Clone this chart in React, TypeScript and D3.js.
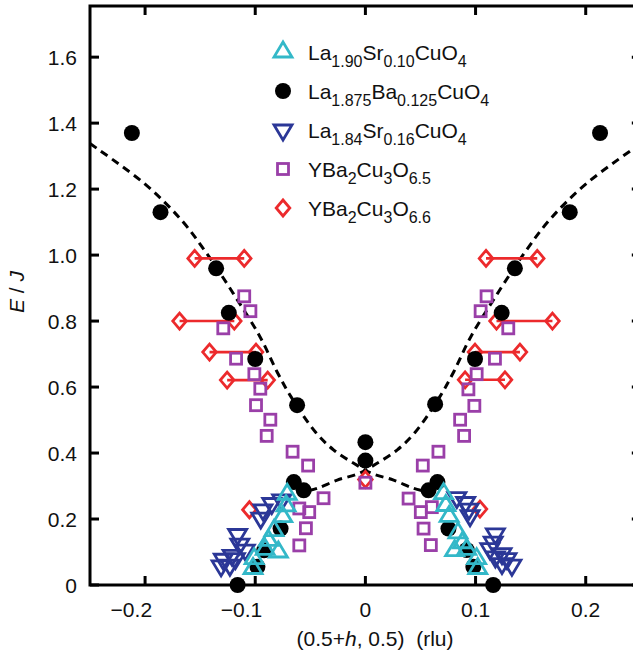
import React from 'react';
import * as d3 from 'd3';

// ---- axis ticks ----
const xTicks = [-0.2, -0.1, 0, 0.1, 0.2];
const xTickLabels = ['\u22120.2', '\u22120.1', '0', '0.1', '0.2'];
const yTicks = [0, 0.2, 0.4, 0.6, 0.8, 1.0, 1.2, 1.4, 1.6];
const yTickLabels = ['0', '0.2', '0.4', '0.6', '0.8', '1.0', '1.2', '1.4', '1.6'];

// ---- data: [h (rlu), E/J] ----
const lsco10: [number, number][] = [
  [-0.071, 0.275], [-0.072, 0.24], [-0.075, 0.207], [-0.083, 0.165], [-0.088, 0.135],
  [-0.079, 0.1], [-0.091, 0.108], [-0.101, 0.08], [-0.102, 0.05],
  [0.071, 0.277], [0.073, 0.241], [0.076, 0.208], [0.084, 0.158], [0.088, 0.128],
  [0.081, 0.104], [0.092, 0.108], [0.101, 0.08], [0.102, 0.05],
];

const lbco: [number, number][] = [
  [-0.212, 1.37], [-0.186, 1.13], [-0.1355, 0.96], [-0.124, 0.825], [-0.1, 0.685],
  [-0.062, 0.545], [-0.065, 0.312], [-0.056, 0.287], [-0.077, 0.171], [-0.092, 0.105],
  [-0.098, 0.055], [-0.116, 0.0],
  [0, 0.433], [0, 0.377],
  [0.213, 1.37], [0.1855, 1.13], [0.1357, 0.96], [0.1237, 0.825], [0.0995, 0.685],
  [0.0633, 0.548], [0.0654, 0.312], [0.0573, 0.287], [0.0754, 0.171], [0.092, 0.106],
  [0.098, 0.055], [0.116, 0.0],
];

const lsco16: [number, number][] = [
  [-0.076, 0.258], [-0.085, 0.247], [-0.093, 0.228], [-0.095, 0.203], [-0.116, 0.153],
  [-0.114, 0.124], [-0.109, 0.106], [-0.121, 0.09], [-0.129, 0.078], [-0.131, 0.058],
  [-0.123, 0.06], [-0.118, 0.08],
  [0.083, 0.265], [0.091, 0.25], [0.094, 0.23], [0.095, 0.21], [0.118, 0.155],
  [0.116, 0.13], [0.113, 0.11], [0.124, 0.095], [0.1285, 0.08], [0.133, 0.06],
  [0.124, 0.065], [0.118, 0.085],
];

const ybco65: [number, number][] = [
  [-0.11, 0.875], [-0.1044, 0.83], [-0.129, 0.778], [-0.1174, 0.686], [-0.1008, 0.639],
  [-0.0954, 0.595], [-0.0993, 0.545], [-0.0863, 0.501], [-0.0896, 0.452], [-0.0661, 0.404],
  [-0.052, 0.362], [-0.038, 0.263], [-0.06, 0.232], [-0.051, 0.221], [-0.054, 0.172],
  [-0.06, 0.12],
  [0, 0.31],
  [0.11, 0.875], [0.1046, 0.83], [0.1297, 0.778], [0.1176, 0.686], [0.101, 0.639],
  [0.0935, 0.593], [0.0989, 0.543], [0.086, 0.501], [0.0896, 0.452], [0.0663, 0.404],
  [0.0521, 0.362], [0.0392, 0.262], [0.0603, 0.236], [0.0503, 0.221], [0.0528, 0.171],
  [0.0594, 0.121],
];

const ybco66: [number, number][] = [
  [-0.155, 0.99], [-0.11, 0.99], [-0.1687, 0.8], [-0.119, 0.8], [-0.1415, 0.706],
  [-0.0993, 0.706], [-0.1255, 0.621], [-0.0887, 0.621], [-0.1053, 0.228],
  [0, 0.32],
  [0.1095, 0.99], [0.156, 0.99], [0.119, 0.8], [0.1698, 0.8], [0.0995, 0.706],
  [0.1403, 0.706], [0.0905, 0.622], [0.1267, 0.622], [0.104, 0.23],
];

// ranges joined by a line: [h low, h high, E]
const ybco66Ranges: [number, number, number][] = [
  [-0.155, -0.11, 0.99], [-0.1687, -0.119, 0.8], [-0.1415, -0.0993, 0.706], [-0.1255, -0.0887, 0.621],
  [0.1095, 0.156, 0.99], [0.119, 0.1698, 0.8], [0.0995, 0.1403, 0.706], [0.0905, 0.1267, 0.622],
];

// dashed dispersion curves
const curveA: [number, number][] = [
  [-0.25, 1.338], [-0.2, 1.215], [-0.167, 1.106], [-0.144, 1.005], [-0.12, 0.884],
  [-0.0956, 0.752], [-0.08, 0.645], [-0.0676, 0.571], [-0.045, 0.462], [-0.0287, 0.409],
  [-0.0106, 0.369], [0.006, 0.338], [0.0256, 0.318], [0.0437, 0.293], [0.055, 0.283],
];
const curveB: [number, number][] = [
  [0.25, 1.338], [0.2, 1.215], [0.167, 1.106], [0.144, 1.005], [0.12, 0.884],
  [0.0956, 0.752], [0.08, 0.645], [0.0676, 0.571], [0.045, 0.462], [0.0287, 0.409],
  [0.0106, 0.369], [-0.006, 0.338], [-0.0256, 0.318], [-0.0437, 0.293], [-0.055, 0.283],
];

// legend entries: text parts, sub = subscript
const legendLabels: [string, boolean][][] = [
  [['La', false], ['1.90', true], ['Sr', false], ['0.10', true], ['CuO', false], ['4', true]],
  [['La', false], ['1.875', true], ['Ba', false], ['0.125', true], ['CuO', false], ['4', true]],
  [['La', false], ['1.84', true], ['Sr', false], ['0.16', true], ['CuO', false], ['4', true]],
  [['YBa', false], ['2', true], ['Cu', false], ['3', true], ['O', false], ['6.5', true]],
  [['YBa', false], ['2', true], ['Cu', false], ['3', true], ['O', false], ['6.6', true]],
];

const CYAN = '#33b8c8';
const BLUE = '#2b3797';
const PURPLE = '#9a3fa8';
const RED = '#ec2a2c';
const FONT = '"Liberation Sans", Arial, Helvetica, sans-serif';

function Marker({ kind, cx, cy }: { kind: number; cx: number; cy: number }) {
  const sw = 2.8;
  if (kind === 0) {
    const w = 18, h = 15;
    return <path d={`M${cx},${cy - (2 * h) / 3}L${cx + w / 2},${cy + h / 3}L${cx - w / 2},${cy + h / 3}Z`} fill="none" stroke={CYAN} strokeWidth={sw} />;
  }
  if (kind === 1) return <circle cx={cx} cy={cy} r={8} fill="#000" />;
  if (kind === 2) {
    const w = 18, h = 15;
    return <path d={`M${cx},${cy + (2 * h) / 3}L${cx + w / 2},${cy - h / 3}L${cx - w / 2},${cy - h / 3}Z`} fill="none" stroke={BLUE} strokeWidth={sw} />;
  }
  if (kind === 3) return <rect x={cx - 5.5} y={cy - 5.5} width={11} height={11} fill="none" stroke={PURPLE} strokeWidth={sw} />;
  return <path d={`M${cx},${cy - 8}L${cx + 6.8},${cy}L${cx},${cy + 8}L${cx - 6.8},${cy}Z`} fill="none" stroke={RED} strokeWidth={sw} />;
}

export default function App() {
  const x = d3.scaleLinear().domain([-0.25, 0.25]).range([90, 640.8]);
  const y = d3.scaleLinear().domain([0, 1.755]).range([585, 6]);
  const line = d3.line<[number, number]>().x(d => x(d[0])).y(d => y(d[1])).curve(d3.curveCatmullRom);
  const [x0, x1] = x.range();
  const [yb, yt] = y.range();
  const tk = 9;

  return (
    <div style={{ position: 'absolute', left: 0, top: 0 }}>
      <svg width={633} height={659} style={{ display: 'block', background: '#fff' }} fontFamily={FONT}>
        {/* dashed curves */}
        <path d={line(curveA) || ''} fill="none" stroke="#000" strokeWidth={3} strokeDasharray="8 5.5" />
        <path d={line(curveB) || ''} fill="none" stroke="#000" strokeWidth={3} strokeDasharray="8 5.5" />

        {/* YBCO 6.6 ranges */}
        {ybco66Ranges.map((r, i) => (
          <line key={'r' + i} x1={x(r[0])} x2={x(r[1])} y1={y(r[2])} y2={y(r[2])} stroke={RED} strokeWidth={2.6} />
        ))}
        {ybco66.map((d, i) => <Marker key={'d' + i} kind={4} cx={x(d[0])} cy={y(d[1])} />)}
        {ybco65.map((d, i) => <Marker key={'s' + i} kind={3} cx={x(d[0])} cy={y(d[1])} />)}
        {lbco.map((d, i) => <Marker key={'c' + i} kind={1} cx={x(d[0])} cy={y(d[1])} />)}
        {lsco16.map((d, i) => <Marker key={'v' + i} kind={2} cx={x(d[0])} cy={y(d[1])} />)}
        {lsco10.map((d, i) => <Marker key={'t' + i} kind={0} cx={x(d[0])} cy={y(d[1])} />)}

        {/* frame */}
        <rect x={x0} y={yt} width={x1 - x0} height={yb - yt} fill="none" stroke="#000" strokeWidth={3} />
        {xTicks.map((t, i) => (
          <g key={'xt' + i}>
            <line x1={x(t)} x2={x(t)} y1={yb} y2={yb - tk} stroke="#000" strokeWidth={3} />
            <line x1={x(t)} x2={x(t)} y1={yt} y2={yt + tk} stroke="#000" strokeWidth={3} />
            <text x={t < 0 ? x(t) + 7 : x(t)} y={617} fontSize={21} textAnchor={t < 0 ? 'end' : 'middle'} fill="#111">
              {xTickLabels[i]}
            </text>
          </g>
        ))}
        {yTicks.map((t, i) => (
          <g key={'yt' + i}>
            <line x1={x0} x2={x0 + tk} y1={y(t)} y2={y(t)} stroke="#000" strokeWidth={3} />
            <line x1={x1} x2={x1 - tk} y1={y(t)} y2={y(t)} stroke="#000" strokeWidth={3} />
            <text x={77} y={y(t) + 7.5} fontSize={21} textAnchor="end" fill="#111">{yTickLabels[i]}</text>
          </g>
        ))}

        {/* axis titles */}
        <text x={375} y={646} fontSize={21} textAnchor="middle" fill="#111" style={{ whiteSpace: 'pre' }}>
          (0.5+<tspan fontStyle="italic">h</tspan>, 0.5)  (rlu)
        </text>
        <text transform="translate(24,292) rotate(-90)" fontSize={21} textAnchor="middle" fill="#111" style={{ whiteSpace: 'pre' }}>
          <tspan fontStyle="italic">E</tspan> / <tspan fontStyle="italic">J</tspan>
        </text>

        {/* legend */}
        {legendLabels.map((parts, i) => {
          const cy = 52 + i * 39;
          const base = cy + 7.5;
          let prevSub = false;
          return (
            <g key={'lg' + i}>
              <Marker kind={i} cx={283} cy={cy} />
              <text x={308} y={base} fontSize={21} fill="#111">
                {parts.map((p, j) => {
                  const dy = p[1] === prevSub ? 0 : p[1] ? 7 : -7;
                  prevSub = p[1];
                  return (
                    <tspan key={j} dy={dy} fontSize={p[1] ? 16 : 21}>{p[0]}</tspan>
                  );
                })}
              </text>
            </g>
          );
        })}
      </svg>
    </div>
  );
}
